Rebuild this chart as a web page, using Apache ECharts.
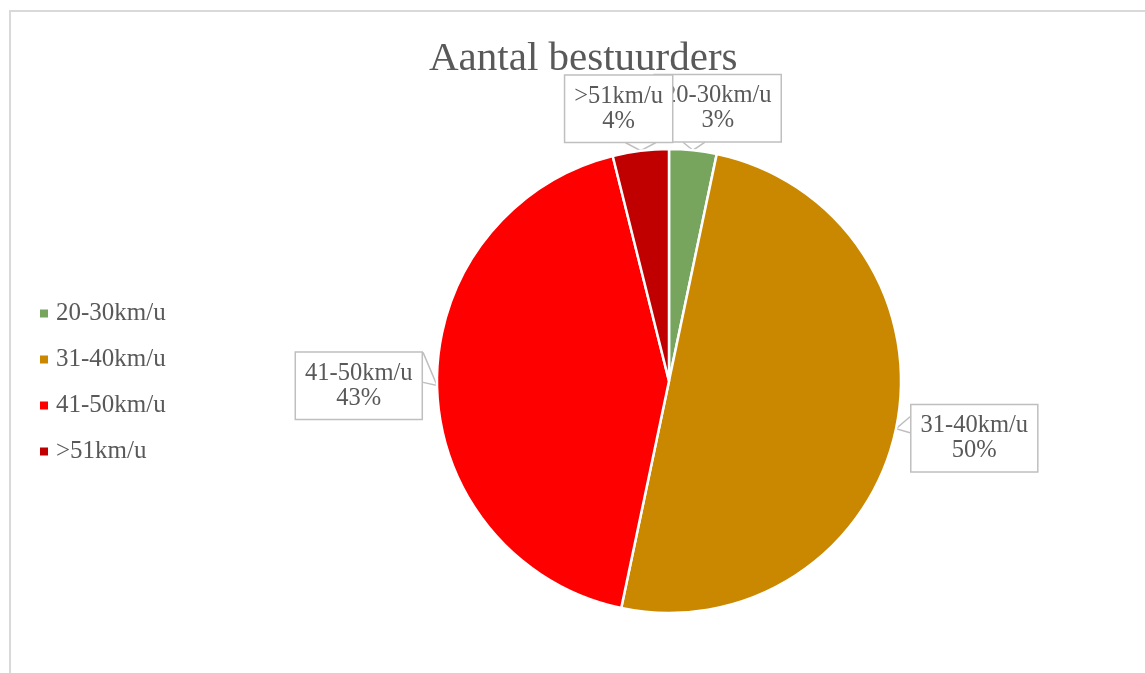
<!DOCTYPE html>
<html>
<head>
<meta charset="utf-8">
<script src="https://cdn.jsdelivr.net/npm/echarts@6/dist/echarts.min.js"></script>
<style>
html,body{margin:0;padding:0;background:#fff;}
#chart{width:1145px;height:673px;}
</style>
</head>
<body>
<div id="chart"></div>
<script>
// ---- data ----
var titleText = 'Aantal bestuurders';
var categories = ['20-30km/u', '31-40km/u', '41-50km/u', '>51km/u'];
var values = [3.3, 50.0, 42.8, 3.9];
var colors = ['#77A55D', '#C98800', '#FF0000', '#C00000'];

var FONT = 'Liberation Serif';
var TEXT = '#595959';

// label placement relative to the pointer tip (where label line meets the slice edge)
// edge: which box edge is anchored at tip.x + dx ('r' right edge, 'l' left edge, 'c' center)
var labelPlace = [
  {dx: 89, dy: -42, edge: 'r', side: 'top', v: [-10, 12]},
  {dx: 14, dy: 9.5, edge: 'l', side: 'left', v: [-12, 4]},
  {dx: -14, dy: 0.5, edge: 'r', side: 'right', v: [-33, -3]},
  {dx: -22, dy: -42, edge: 'c', side: 'top', v: [-15, 15]}
];

var chart = echarts.init(document.getElementById('chart'));
var seriesData = categories.map(function (c, i) {
  return {name: c, value: values[i], itemStyle: {color: colors[i]}};
});

chart.setOption({
  animation: false,
  backgroundColor: '#fff',
  graphic: [{
    type: 'rect', silent: true, z: -10,
    shape: {x: 10, y: 11, width: 1300, height: 800},
    style: {fill: 'none', stroke: '#d9d9d9', lineWidth: 2}
  }],
  title: {
    text: titleText,
    left: 429, top: 39, padding: 0,
    textStyle: {fontFamily: FONT, fontSize: 41, fontWeight: 'normal', color: TEXT}
  },
  legend: {
    orient: 'vertical',
    left: 40, top: 301, padding: 0,
    itemWidth: 8, itemHeight: 8, itemGap: 21,
    icon: 'rect',
    itemStyle: {borderWidth: 0},
    data: categories,
    textStyle: {fontFamily: FONT, fontSize: 25, color: TEXT, lineHeight: 24, padding: [0, 0, 0, 3]}
  },
  series: [{
    type: 'pie',
    center: [669, 381],
    radius: 232,
    startAngle: 90,
    clockwise: true,
    avoidLabelOverlap: false,
    data: seriesData,
    itemStyle: {borderColor: '#fff', borderWidth: 2.5},
    emphasis: {disabled: true},
    label: {
      show: true,
      position: 'outside',
      formatter: function (p) { return p.name + '\n' + Math.round(p.percent) + '%'; },
      fontFamily: FONT, fontSize: 24.5, color: TEXT, lineHeight: 25,
      backgroundColor: '#fff', borderColor: '#bfbfbf', borderWidth: 1.5,
      padding: [8, 9], align: 'center'
    },
    labelLine: {show: true, length: 10, length2: 5, lineStyle: {color: '#bfbfbf', width: 1.5}},
    labelLayout: function (p) {
      var pl = labelPlace[p.dataIndex];
      var t = p.labelLinePoints[0];
      var w = p.labelRect.width, h = p.labelRect.height;
      var ex = t[0] + pl.dx, y = t[1] + pl.dy;
      var cx = pl.edge === 'r' ? ex - w / 2 : (pl.edge === 'l' ? ex + w / 2 : ex);
      var pts;
      if (pl.side === 'top') {
        var yb = y + h / 2 - 0.5;
        pts = [[t[0] + pl.v[0], yb], [t[0], t[1]], [t[0] + pl.v[1], yb]];
      } else {
        pts = [[ex, t[1] + pl.v[0]], [t[0], t[1]], [ex, t[1] + pl.v[1]]];
      }
      return {x: cx, y: y, align: 'center', verticalAlign: 'middle', labelLinePoints: pts};
    }
  }]
});
</script>
</body>
</html>
